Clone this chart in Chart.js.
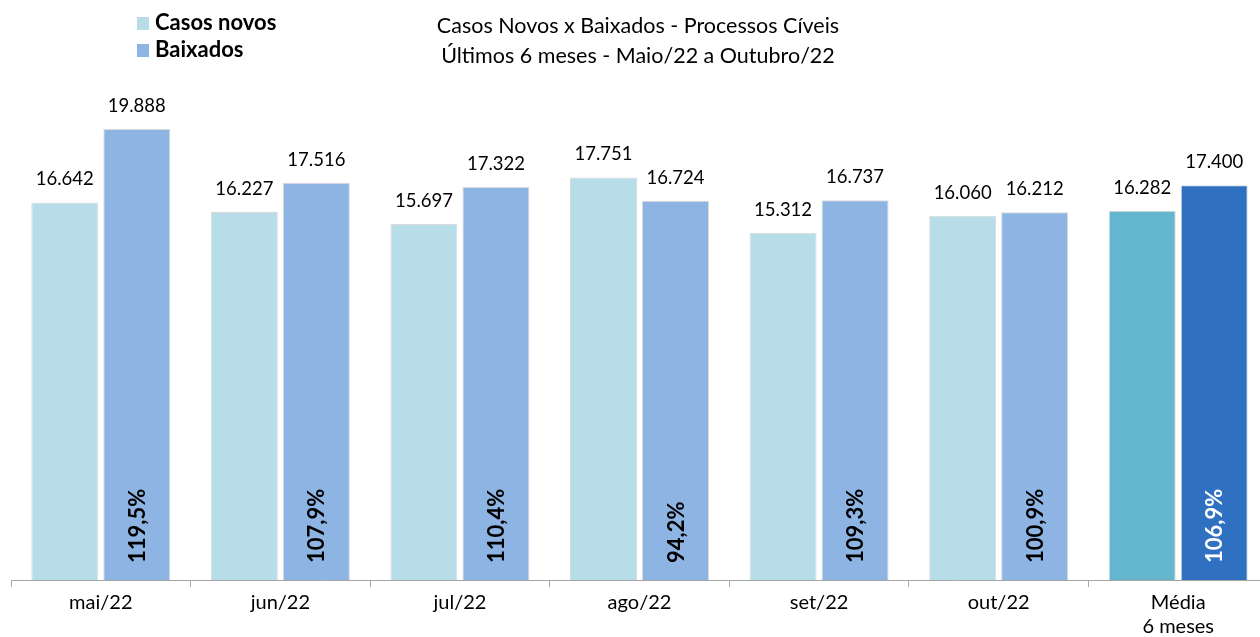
<!DOCTYPE html>
<html>
<head>
<meta charset="utf-8">
<title>Casos Novos x Baixados</title>
<script src="https://cdn.jsdelivr.net/npm/chart.js@4/dist/chart.umd.min.js"></script>
<style>
  html, body { margin: 0; padding: 0; background: #fff; overflow: hidden; }
  #wrap { position: absolute; left: 0; top: 0; width: 1260px; height: 637px; overflow: hidden; }
</style>
</head>
<body>
<div id="wrap"><canvas id="chart" width="1268" height="637"></canvas></div>
<script>
var categorias = ['mai/22', 'jun/22', 'jul/22', 'ago/22', 'set/22', 'out/22', ['Média', '6 meses']];
var casosNovos = [16642, 16227, 15697, 17751, 15312, 16060, 16282];
var baixados = [19888, 17516, 17322, 16724, 16737, 16212, 17400];
var percentual = [119.5, 107.9, 110.4, 94.2, 109.3, 100.9, 106.9];
var tituloLinhas = ['Casos Novos x Baixados - Processos Cíveis', 'Últimos 6 meses - Maio/22 a Outubro/22'];

var fonte = 'Lato';
var corCasos = '#B7DEE8';
var corCasosMedia = '#64B5CE';
var corBaixados = '#8EB4E3';
var corBaixadosMedia = '#2F70C0';

function fmtMilhar(v) {
  return String(v).replace(/\B(?=(\d{3})+(?!\d))/g, '.');
}

function fmtPct(v) {
  return v.toFixed(1).replace('.', ',') + '%';
}

function coresPorBarra(normal, media) {
  return categorias.map(function (c, i) { return i === categorias.length - 1 ? media : normal; });
}

var rotulosPlugin = {
  id: 'rotulos',
  afterDatasetsDraw: function (chart) {
    var ctx = chart.ctx;
    ctx.save();
    ctx.textAlign = 'center';
    ctx.textBaseline = 'middle';
    ctx.fillStyle = '#000';
    ctx.font = '18.5px ' + fonte;
    chart.data.datasets.forEach(function (ds, d) {
      chart.getDatasetMeta(d).data.forEach(function (bar, i) {
        ctx.fillText(fmtMilhar(ds.data[i]), bar.x, bar.y - 23);
      });
    });

    // percentual baixados / casos novos dentro da barra
    var metaB = chart.getDatasetMeta(1);
    ctx.font = 'bold 22px ' + fonte;
    metaB.data.forEach(function (bar, i) {
      ctx.save();
      ctx.translate(bar.x, chart.chartArea.bottom - 17);
      ctx.rotate(-Math.PI / 2);
      ctx.textAlign = 'left';
      ctx.fillStyle = i === metaB.data.length - 1 ? '#fff' : '#000';
      ctx.fillText(fmtPct(percentual[i]), 0, 1);
      ctx.restore();
    });
    ctx.restore();
  },
  afterDraw: function (chart) {
    var ctx = chart.ctx;
    ctx.save();
    // titulo
    ctx.fillStyle = '#000';
    ctx.textAlign = 'center';
    ctx.textBaseline = 'middle';
    ctx.font = '21.5px ' + fonte;
    ctx.fillText(tituloLinhas[0], 638, 26);
    ctx.fillText(tituloLinhas[1], 638, 56);

    // legenda
    ctx.textAlign = 'left';
    ctx.font = 'bold 22px ' + fonte;
    chart.data.datasets.forEach(function (ds, d) {
      var y = 23 + d * 27;
      ctx.fillStyle = ds.backgroundColor[0];
      ctx.fillRect(137, y - 6, 12, 13);
      ctx.fillStyle = '#000';
      ctx.fillText(ds.label, 155, y);
    });
    ctx.restore();
  }
};

new Chart(document.getElementById('chart'), {
  type: 'bar',
  data: {
    labels: categorias,
    datasets: [{
      label: 'Casos novos',
      data: casosNovos,
      backgroundColor: coresPorBarra(corCasos, corCasosMedia),
      borderColor: '#dadada',
      borderWidth: 1,
      borderSkipped: 'bottom',
      categoryPercentage: 0.802,
      barPercentage: 0.93
    }, {
      label: 'Baixados',
      data: baixados,
      backgroundColor: coresPorBarra(corBaixados, corBaixadosMedia),
      borderColor: '#dadada',
      borderWidth: 1,
      borderSkipped: 'bottom',
      categoryPercentage: 0.802,
      barPercentage: 0.93
    }]
  },
  options: {
    responsive: false,
    animation: false,
    devicePixelRatio: 1,
    layout: { padding: { left: 11, right: 0, top: 81, bottom: 0 } },
    plugins: {
      legend: { display: false },
      title: { display: false },
      tooltip: { enabled: false }
    },
    scales: {
      x: {
        afterFit: function (scale) { scale.height = 57; },
        grid: {
          offset: true,
          drawOnChartArea: false,
          drawTicks: true,
          tickLength: 7,
          color: '#a6a6a6'
        },
        border: { display: true, color: '#a6a6a6', width: 1 },
        ticks: {
          color: '#000',
          padding: 4,
          maxRotation: 0,
          font: { family: fonte, size: 20, lineHeight: 1.2 }
        }
      },
      y: {
        display: false,
        min: 0,
        max: 22000
      }
    }
  },
  plugins: [rotulosPlugin]
});
</script>
</body>
</html>
